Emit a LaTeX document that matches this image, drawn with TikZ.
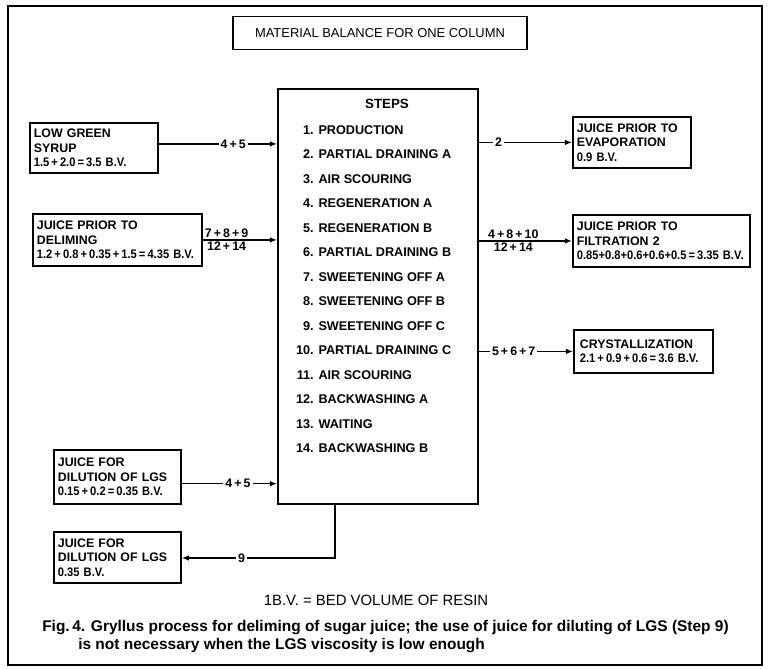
\documentclass[tikz,border=0pt]{standalone}
\usepackage{fontspec}
\setmainfont{Liberation Sans}
\newfontfamily\numfont[FakeStretch=0.9]{Liberation Sans}
\usetikzlibrary{positioning,arrows.meta}
\newcommand{\ts}{\,}
\tikzset{box/.style={draw,line width=1.3pt,anchor=north west,align=left,inner xsep=0.1cm,
           font=\bfseries\fontsize{8.8}{10.3}\selectfont},
	 flow/.style={-{Latex[length=5pt,width=4pt]},line width=1pt},
	 tag/.style={fill=white,inner sep=1.5pt,font=\bfseries\fontsize{8.8}{10}\selectfont},
	 stag/.style={inner sep=1pt,font=\bfseries\fontsize{8.8}{10}\selectfont},
	 item/.style={inner sep=0pt,font=\bfseries\fontsize{9}{10}\selectfont},
	 capline/.style={anchor=base west,inner sep=0pt,font=\bfseries\fontsize{11}{13}\selectfont},
	 node distance = 1
	 }

\begin{document}
\begin{tikzpicture}[x=0.025cm,y=-0.025cm]
      \useasboundingbox (0,0) rectangle (768,669);
      \draw[line width=1.4pt] (8,6) rectangle (762,665);
      \node[draw,line width=1.3pt,minimum width=7.35cm,minimum height=0.825cm,
            font=\fontsize{9.2}{10}\selectfont] (title) at (380,33) {MATERIAL BALANCE FOR ONE COLUMN};
      % column with its steps
      \node[draw,line width=1.3pt,anchor=north west,minimum width=5cm,minimum height=10.375cm] (steps) at (277,88) {};
      \node[item,font=\bfseries\fontsize{9.5}{11}\selectfont] (head) at (387,104) {STEPS};
      \foreach \n/\t in {1/PRODUCTION,2/PARTIAL DRAINING A,3/AIR SCOURING,4/REGENERATION A,
          5/REGENERATION B,6/PARTIAL DRAINING B,7/SWEETENING OFF A,8/SWEETENING OFF B,
          9/SWEETENING OFF C,10/PARTIAL DRAINING C,11/AIR SCOURING,12/BACKWASHING A,
          13/WAITING,14/BACKWASHING B}
      {
        \node[item,anchor=base east] (n\n) at (314,134.5+24.46*\n-24.46) {\n.};
        \node[item,anchor=base west] (s\n) at ([xshift=3pt]n\n.base east) {\t};
      }
      % inputs
      \node[box,minimum width=3.2cm,minimum height=1.25cm,text width=3cm] (lgs) at (29,122)
        {LOW GREEN\\SYRUP\\{\numfont 1.5\ts+\ts2.0\ts=\ts3.5 B.V.}};
      \node[box,minimum width=4.225cm,minimum height=1.3cm,text width=4.025cm] (delim) at (32,213)
        {JUICE PRIOR TO\\DELIMING\\{\numfont 1.2\ts+\ts0.8\ts+\ts0.35\ts+\ts1.5\ts=\ts4.35 B.V.}};
      \node[box,minimum width=3.175cm,minimum height=1.35cm,text width=2.975cm] (dilin) at (53,449)
        {JUICE FOR\\DILUTION OF LGS\\{\numfont 0.15\ts+\ts0.2\ts=\ts0.35 B.V.}};
      \node[box,minimum width=3.175cm,minimum height=1.275cm,text width=2.975cm] (dilout) at (53,531)
        {JUICE FOR\\DILUTION OF LGS\\{\numfont 0.35 B.V.}};
      % outputs
      \node[box,minimum width=2.95cm,minimum height=1.275cm,text width=2.75cm] (evap) at (572,116)
        {JUICE PRIOR TO\\EVAPORATION\\{\numfont 0.9 B.V.}};
      \node[box,minimum width=4.425cm,minimum height=1.3cm,text width=4.225cm] (filt) at (572,214)
        {JUICE PRIOR TO\\FILTRATION 2\\{\numfont 0.85+0.8+0.6+0.6+0.5\ts=\ts3.35 B.V.}};
      \node[box,minimum width=3.475cm,minimum height=1.075cm,text width=3.175cm,inner xsep=0.15cm] (cryst) at (573,329)
        {CRYSTALLIZATION\\{\numfont 2.1\ts+\ts0.9\ts+\ts0.6\ts=\ts3.6 B.V.}};
      % flows
      \draw[flow] ([yshift=0.1cm]lgs.east) -- node[tag,pos=0.63] {4\ts+\ts5} ([yshift=0.1cm]lgs.east -| steps.west);
      \draw[flow] (delim.east) -- node[stag,above,pos=0.32] {7\ts+\ts8\ts+\ts9} node[stag,below,pos=0.32] {12\ts+\ts14} (delim.east -| steps.west);
      \draw[flow] ([yshift=-0.17cm]dilin.east) -- node[tag,pos=0.59] {4\ts+\ts5} ([yshift=-0.17cm]dilin.east -| steps.west);
      \draw[flow] (evap.west -| steps.east) -- node[tag,pos=0.21] {2} (evap.west);
      \draw[flow] (filt.west -| steps.east) -- node[stag,above,pos=0.37] {4\ts+\ts8\ts+\ts10} node[stag,below,pos=0.37] {12\ts+\ts14} (filt.west);
      \draw[flow] (cryst.west -| steps.east) -- node[tag,pos=0.37] {5\ts+\ts6\ts+\ts7} (cryst.west);
      \coordinate (drain) at (335,558);
      \draw[flow] (steps.south -| drain) -- (drain) -- node[tag,pos=0.61] {9} (drain -| dilout.east);
      % notes
      \node[font=\fontsize{10.6}{12}\selectfont] (bv) at (376,600) {1B.V. = BED VOLUME OF RESIN};
      \node[capline] (cap1) at (42,631)
        {Fig.\ts4. Gryllus process for deliming of sugar juice; the use of juice for diluting of LGS (Step 9)};
      \node[capline] (cap2) at (78,649) {is not necessary when the LGS viscosity is low enough};
  \end{tikzpicture}
\end{document}
